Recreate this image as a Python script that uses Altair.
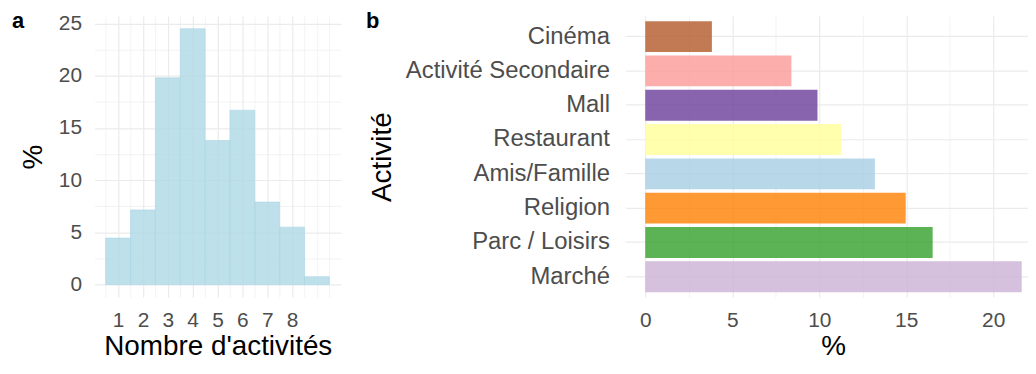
import altair as alt
import pandas as pd

# ---- Panel a: distribution of the number of activities ----
n_activites = [1, 2, 3, 4, 5, 6, 7, 8, 9]
pct_activites = [4.45, 7.15, 19.8, 24.5, 13.8, 16.7, 7.9, 5.5, 0.75]
x_tick_values = [0.5, 1, 1.5, 2, 2.5, 3, 3.5, 4, 4.5, 5, 5.5, 6, 6.5, 7, 7.5, 8, 8.5, 9, 9.5]
y_tick_values = [0, 2.5, 5, 7.5, 10, 12.5, 15, 17.5, 20, 22.5, 25]

# ---- Panel b: share of each activity ----
activites = ["Cinéma", "Activité Secondaire", "Mall", "Restaurant",
             "Amis/Famille", "Religion", "Parc / Loisirs", "Marché"]
pct_activite = [3.83, 8.4, 9.9, 11.25, 13.2, 14.97, 16.52, 21.64]
couleurs = ["#B15928", "#FB9A99", "#6A3D9A", "#FFFF99",
            "#A6CEE3", "#FF7F00", "#33A02C", "#CAB2D6"]
xb_tick_values = [0, 2.5, 5, 7.5, 10, 12.5, 15, 17.5, 20]

FONT = "Liberation Sans"
GRID = "#EBEBEB"
LABEL_COLOR = "#4D4D4D"
TICK_FS = 21
CAT_FS = 24
TITLE_FS = 28
PLOT_H = 283


def grid_width(test):
    return {"condition": {"test": test, "value": 1.2}, "value": 0.6}


hist_df = pd.DataFrame({"n": n_activites, "pct": pct_activites})

hist = (
    alt.Chart(hist_df)
    .transform_calculate(lo="datum.n - 0.5", hi="datum.n + 0.5")
    .mark_bar(fill="#ADD8E6", stroke="#ADD8E6", fillOpacity=0.8,
              strokeOpacity=0.8, strokeWidth=0.8)
    .encode(
        x=alt.X("lo:Q",
                scale=alt.Scale(domain=[0.05, 9.97], nice=False, zero=False),
                axis=alt.Axis(values=x_tick_values,
                              labelExpr="(datum.value % 1 === 0 && datum.value <= 8) ? format(datum.value, 'd') : ''",
                              labelOverlap=False, labelFlush=False,
                              gridWidth=grid_width("datum.value % 1 === 0 && datum.value <= 8"),
                              title="Nombre d'activités", labelPadding=12,
                              titlePadding=2)),
        x2="hi:Q",
        y=alt.Y("pct:Q",
                scale=alt.Scale(domain=[-1.225, 25.725], nice=False, zero=False),
                axis=alt.Axis(values=y_tick_values,
                              labelExpr="datum.value % 5 === 0 ? format(datum.value, 'd') : ''",
                              labelOverlap=False, labelFlush=False,
                              gridWidth=grid_width("datum.value % 5 === 0"),
                              title="%", labelPadding=13,
                              titleX=-61, titleBaseline="middle",
                              titleAlign="center")),
        y2=alt.datum(0),
    )
)

label_a = (
    alt.Chart(pd.DataFrame({"t": ["a"]}))
    .mark_text(font=FONT, fontSize=22, fontWeight="bold", align="left",
               baseline="alphabetic", color="black")
    .encode(text="t:N", x=alt.value(-83), y=alt.value(12.5))
)

panel_a = alt.layer(hist, label_a).properties(width=248, height=PLOT_H)

bar_df = pd.DataFrame({"act": activites, "pct": pct_activite})

bars = (
    alt.Chart(bar_df)
    .mark_bar(opacity=0.8)
    .encode(
        y=alt.Y("act:N", sort=activites,
                scale=alt.Scale(paddingInner=0.1, paddingOuter=0.15),
                axis=alt.Axis(title="Activité", labelFontSize=CAT_FS,
                              labelLimit=500, labelPadding=16,
                              titleX=-244, titleBaseline="middle",
                              titleAlign="center",
                              bandPosition=0.5, gridWidth=1.2)),
        x=alt.X("pct:Q",
                scale=alt.Scale(domain=[-1.143, 22.0], nice=False, zero=False),
                axis=alt.Axis(values=xb_tick_values,
                              labelExpr="datum.value % 5 === 0 ? format(datum.value, 'd') : ''",
                              labelOverlap=False, labelFlush=False,
                              gridWidth=grid_width("datum.value % 5 === 0"),
                              title="%", titleX=209, labelPadding=12,
                              titlePadding=2)),
        x2=alt.datum(0),
        color=alt.Color("act:N", scale=alt.Scale(domain=activites, range=couleurs),
                        legend=None),
    )
)

label_b = (
    alt.Chart(pd.DataFrame({"t": ["b"]}))
    .mark_text(font=FONT, fontSize=22, fontWeight="bold", align="left",
               baseline="alphabetic", color="black")
    .encode(text="t:N", x=alt.value(-261), y=alt.value(12.5))
)

panel_b = alt.layer(bars, label_b).properties(width=405, height=PLOT_H)

chart = (
    alt.hconcat(panel_a, panel_b, spacing=25)
    .properties(padding={"left": 4, "top": 1, "right": 0, "bottom": 1})
    .configure_view(stroke=None)
    .configure_axis(
        labelFont=FONT, titleFont=FONT, labelFontSize=TICK_FS,
        titleFontSize=TITLE_FS, titleFontWeight="normal",
        labelColor=LABEL_COLOR, titleColor="black",
        ticks=False, tickSize=0, domain=False, grid=True, gridColor=GRID,
    )
)

chart.save("out.html", embed_options={"renderer": "svg", "actions": False})
